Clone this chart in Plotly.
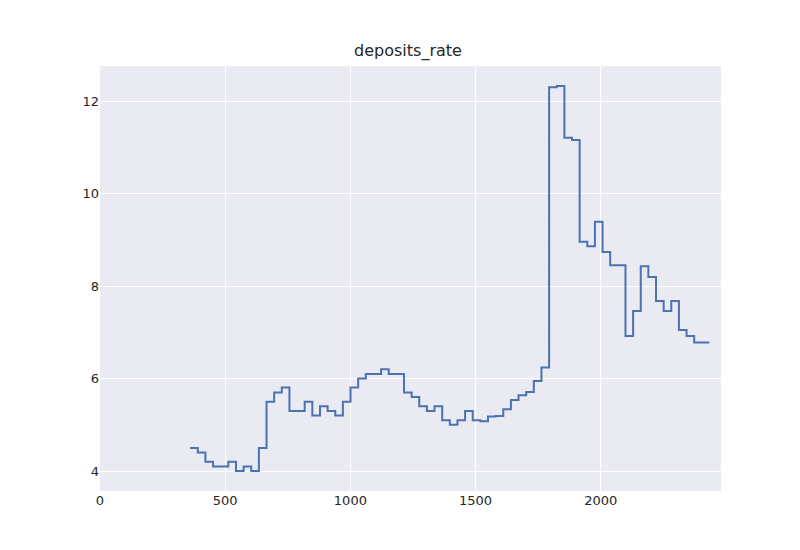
import plotly.graph_objects as go

rates = [4.50,4.40,4.20,4.10,4.10,4.20,4.00,4.10,4.00,4.50,5.50,5.70,5.81,5.30,5.30,5.50,5.20,5.40,5.30,5.20,
         5.50,5.81,6.00,6.10,6.10,6.20,6.10,6.10,5.70,5.60,5.40,5.30,5.40,5.10,5.00,5.10,5.30,5.10,5.08,5.18,5.19,
         5.34,5.54,5.64,5.71,5.95,6.24,12.30,12.33,11.21,11.16,8.96,8.86,9.39,8.74,8.45,8.45,6.92,7.46,8.43,8.20,
         7.68,7.46,7.68,7.05,6.92,6.78,6.78]
x_start = 360
step = 30.5
xs = [x_start + step * i for i in range(len(rates) + 1)]
ys = rates + [rates[-1]]

fig = go.Figure(go.Scatter(x=xs, y=ys, mode="lines", line=dict(color="#4C72B0", width=2, shape="hv")))
fig.update_layout(
    width=800, height=550,
    margin=dict(l=92, r=87, t=58, b=67),
    paper_bgcolor="white", plot_bgcolor="#EAEAF2",
    title=dict(text="deposits_rate", x=0.5, xanchor="center", y=0.912, yanchor="bottom",
               font=dict(family="DejaVu Sans", size=16, color="#262626")),
    font=dict(family="DejaVu Sans", size=13, color="#262626"),
    showlegend=False,
)
fig.update_xaxes(range=[0, 2480], tickvals=[0, 500, 1000, 1500, 2000], gridcolor="white", gridwidth=1.2,
                 zeroline=False, showline=False, ticks="", automargin=False)
fig.update_yaxes(range=[3.57, 12.76], tickvals=[4, 6, 8, 10, 12], gridcolor="white", gridwidth=1.2,
                 zeroline=False, showline=False, ticks="", automargin=False)
fig.write_html("out.html")
